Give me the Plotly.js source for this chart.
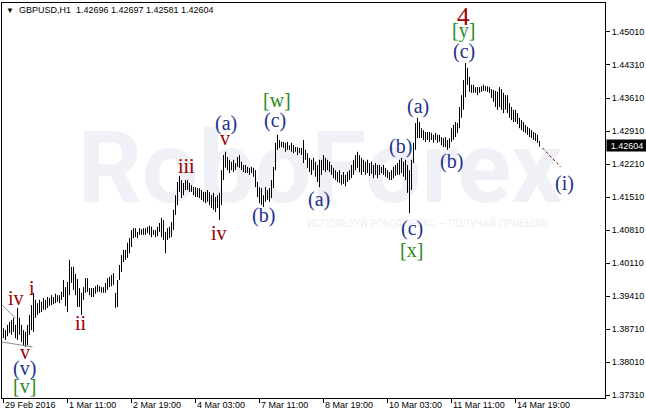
<!DOCTYPE html>
<html>
<head>
<meta charset="utf-8">
<script src="https://cdn.plot.ly/plotly-3.0.1.min.js"></script>
<style>html,body{margin:0;padding:0;background:#fff}#chart{width:646px;height:414px}</style>
</head>
<body>
<div id="chart"></div>
<script>
// GBPUSD H1, 29 Feb 2016 03:00 onward (one entry per hourly bar)
const highs = [
1.3873,1.3869,1.3880,1.3886,1.3890,1.3895,1.3880,1.3916,1.3895,1.3880,
1.3869,1.3865,1.3880,1.3901,1.3922,1.3948,1.3933,1.3926,1.3933,1.3929,
1.3937,1.3933,1.3939,1.3937,1.3943,1.3939,1.3946,1.3943,1.3943,1.3950,
1.3975,1.3960,1.3971,1.4018,1.4003,1.4003,1.3988,1.3977,1.3958,1.3948,
1.3960,1.3979,1.3979,1.3958,1.3958,1.3958,1.3962,1.3965,1.3962,1.3960,
1.3960,1.3969,1.3979,1.3982,1.3986,1.3990,1.3948,1.3975,1.4007,1.4028,
1.4039,1.4039,1.4054,1.4064,1.4081,1.4085,1.4085,1.4077,1.4085,1.4083,
1.4085,1.4085,1.4088,1.4090,1.4088,1.4081,1.4081,1.4088,1.4096,1.4107,
1.4102,1.4077,1.4085,1.4088,1.4098,1.4124,1.4155,1.4183,1.4196,1.4187,
1.4181,1.4187,1.4187,1.4181,1.4176,1.4172,1.4172,1.4170,1.4170,1.4166,
1.4162,1.4162,1.4166,1.4162,1.4155,1.4160,1.4151,1.4155,1.4160,1.4208,
1.4240,1.4247,1.4236,1.4230,1.4226,1.4230,1.4223,1.4236,1.4240,1.4226,
1.4219,1.4219,1.4215,1.4213,1.4215,1.4213,1.4208,1.4183,1.4172,1.4170,
1.4155,1.4172,1.4166,1.4170,1.4187,1.4215,1.4266,1.4283,1.4272,1.4268,
1.4268,1.4266,1.4268,1.4261,1.4266,1.4261,1.4257,1.4257,1.4255,1.4255,
1.4272,1.4251,1.4244,1.4234,1.4230,1.4234,1.4226,1.4219,1.4230,1.4230,
1.4240,1.4234,1.4230,1.4226,1.4219,1.4213,1.4208,1.4204,1.4208,1.4198,
1.4204,1.4198,1.4204,1.4208,1.4219,1.4230,1.4240,1.4247,1.4240,1.4234,
1.4230,1.4226,1.4230,1.4223,1.4226,1.4219,1.4223,1.4219,1.4219,1.4215,
1.4219,1.4213,1.4208,1.4204,1.4208,1.4215,1.4219,1.4223,1.4230,1.4234,
1.4226,1.4230,1.4219,1.4208,1.4230,1.4266,1.4308,1.4319,1.4310,1.4297,
1.4293,1.4289,1.4289,1.4289,1.4287,1.4283,1.4287,1.4283,1.4283,1.4278,
1.4276,1.4278,1.4272,1.4276,1.4297,1.4304,1.4310,1.4308,1.4342,1.4367,
1.4399,1.4435,1.4425,1.4406,1.4389,1.4389,1.4384,1.4384,1.4384,1.4386,
1.4389,1.4386,1.4386,1.4384,1.4380,1.4378,1.4376,1.4374,1.4384,1.4380,
1.4372,1.4367,1.4367,1.4350,1.4342,1.4336,1.4336,1.4329,1.4319,1.4314,
1.4310,1.4304,1.4300,1.4297,1.4293,1.4289,1.4287,1.4283,1.42697
];
const lows = [
1.3852,1.3848,1.3856,1.3863,1.3859,1.3865,1.3852,1.3848,1.3859,1.3844,
1.3837,1.3833,1.3837,1.3859,1.3869,1.3865,1.3895,1.3901,1.3905,1.3907,
1.3912,1.3912,1.3916,1.3920,1.3922,1.3924,1.3926,1.3929,1.3926,1.3933,
1.3939,1.3920,1.3907,1.3943,1.3969,1.3954,1.3943,1.3918,1.3918,1.3901,
1.3933,1.3948,1.3950,1.3943,1.3939,1.3939,1.3946,1.3950,1.3950,1.3948,
1.3948,1.3948,1.3954,1.3960,1.3962,1.3965,1.3916,1.3918,1.3975,1.3992,
1.4013,1.4018,1.4022,1.4032,1.4045,1.4064,1.4066,1.4064,1.4071,1.4071,
1.4071,1.4071,1.4075,1.4071,1.4066,1.4071,1.4066,1.4068,1.4077,1.4066,
1.4060,1.4032,1.4060,1.4064,1.4066,1.4081,1.4113,1.4134,1.4162,1.4149,
1.4155,1.4166,1.4166,1.4162,1.4162,1.4155,1.4151,1.4151,1.4149,1.4145,
1.4141,1.4138,1.4141,1.4134,1.4128,1.4124,1.4119,1.4128,1.4102,1.4134,
1.4187,1.4213,1.4208,1.4202,1.4208,1.4204,1.4208,1.4215,1.4213,1.4208,
1.4204,1.4202,1.4202,1.4198,1.4202,1.4194,1.4172,1.4151,1.4138,1.4134,
1.4130,1.4141,1.4145,1.4141,1.4149,1.4170,1.4208,1.4251,1.4255,1.4257,
1.4255,1.4247,1.4251,1.4251,1.4247,1.4244,1.4247,1.4240,1.4244,1.4240,
1.4223,1.4230,1.4213,1.4204,1.4198,1.4208,1.4194,1.4183,1.4172,1.4198,
1.4208,1.4204,1.4208,1.4204,1.4198,1.4191,1.4187,1.4183,1.4181,1.4177,
1.4179,1.4174,1.4183,1.4187,1.4191,1.4198,1.4208,1.4213,1.4204,1.4198,
1.4204,1.4198,1.4202,1.4196,1.4200,1.4191,1.4198,1.4191,1.4198,1.4202,
1.4198,1.4194,1.4191,1.4187,1.4187,1.4191,1.4196,1.4198,1.4198,1.4202,
1.4194,1.4187,1.4160,1.4117,1.4166,1.4223,1.4251,1.4276,1.4276,1.4276,
1.4272,1.4268,1.4272,1.4268,1.4272,1.4266,1.4272,1.4266,1.4268,1.4261,
1.4257,1.4257,1.4251,1.4255,1.4268,1.4272,1.4278,1.4287,1.4297,1.4319,
1.4336,1.4363,1.4389,1.4374,1.4372,1.4372,1.4372,1.4367,1.4372,1.4374,
1.4376,1.4376,1.4374,1.4372,1.4361,1.4353,1.4342,1.4336,1.4342,1.4336,
1.4329,1.4336,1.4329,1.4319,1.4314,1.4310,1.4310,1.4306,1.4297,1.4293,
1.4289,1.4287,1.4283,1.4278,1.4276,1.4272,1.4270,1.4266,1.42581
];
const lastBar = {open: 1.42696, high: 1.42697, low: 1.42581, close: 1.42604};

const xTickIdx  = [0, 32, 64, 96, 128, 160, 192, 224, 256];
const xTickText = ['29 Feb 2016','1 Mar 11:00','2 Mar 19:00','4 Mar 03:00','7 Mar 11:00',
                   '8 Mar 19:00','10 Mar 03:00','11 Mar 11:00','14 Mar 19:00'];
const yTicks = [1.37310,1.38010,1.38710,1.39410,1.40110,1.40810,1.41510,1.42210,1.42910,1.43610,1.44310,1.45010];

// Elliott wave labels: text, bar index, price, degree
const waveText   = ['iv','i','v','(v)','[v]','ii','iii','iv','v','(a)','(b)','(c)','[w]',
                    '(a)','(b)','(c)','[x]','(a)','(b)','(c)','[y]','4','(i)'];
const waveX      = [6,14,10.5,10.5,10.5,38.5,91.5,107.5,110.5,111,130,135.5,136.5,
                    157.5,198.5,204,204,207,224,230,230,230,280.5];
const waveY      = [1.3937,1.3958,1.38226,1.37865,1.37505,1.38840,1.42169,1.40748,1.42762,1.43059,1.41109,1.43123,1.43568,
                    1.41448,1.42572,1.40854,1.40388,1.43420,1.42254,1.44586,1.45031,1.45328,1.41808];
const waveDegree = ['sub','sub','sub','minuette','minute','sub','sub','sub','sub','minuette','minuette','minuette','minute',
                    'minuette','minuette','minuette','minute','minuette','minuette','minuette','minute','minor','minuette'];

// projection and trend lines (bar index, price)
const projLine = {x0: 269.5, y0: 1.4255, x1: 278.5, y1: 1.4215};
const trendLines = [
  {x0: -0.75, y0: 1.39222, x1: 6, y1: 1.38946},
  {x0: -0.75, y0: 1.38438, x1: 14.5, y1: 1.38332}
];

const degreeStyle = {
  sub:      {color: '#990000', size: 20},
  minuette: {color: '#22308C', size: 20},
  minute:   {color: '#2A8A1E', size: 20},
  minor:    {color: '#990000', size: 25}
};

// bars as high-low segments
const sx = [], sy = [];
highs.forEach((h, i) => { sx.push(i, i, null); sy.push(lows[i], h, null); });

const sans = 'Liberation Sans, Arial, sans-serif';
const serif = 'Liberation Serif, Times New Roman, serif';

const traces = [
  {type: 'scatter', mode: 'text', x: [158.25], y: [1.4193], text: ['RoboForex'],
   textfont: {family: 'Roboto, sans-serif', size: 100, color: '#EFF1F6', weight: 700},
   hoverinfo: 'skip', cliponaxis: false},
  {type: 'scatter', mode: 'text', x: [212], y: [1.4092], text: ['ИСПОЛЬЗУЙ РОБОФОРЕКС — ПОЛУЧАЙ ПРИБЫЛЬ'],
   textfont: {family: 'Roboto, sans-serif', size: 10, color: '#ECEFF4'},
   hoverinfo: 'skip', cliponaxis: false},
  {type: 'scatter', mode: 'lines', x: sx, y: sy, connectgaps: false,
   line: {color: '#000000', width: 1}, hoverinfo: 'skip'}
];

const annotations = [];
waveText.forEach((t, i) => {
  const st = degreeStyle[waveDegree[i]];
  annotations.push({x: waveX[i], y: waveY[i], xref: 'x', yref: 'y', text: t, showarrow: false,
    xanchor: 'center', yanchor: 'middle', font: {family: serif, size: st.size, color: st.color}});
});
xTickIdx.forEach((v, i) => {
  annotations.push({x: v, y: 0, xref: 'x', yref: 'paper', text: xTickText[i], showarrow: false,
    xanchor: 'left', yanchor: 'top', xshift: -1, font: {family: sans, size: 9, color: '#000'}});
});
annotations.push({x: 0, y: 1, xref: 'paper', yref: 'paper', xanchor: 'left', yanchor: 'top', showarrow: false,
  xshift: 2, yshift: 0,
  text: '<span style="font-size:8px">▼</span>\u00A0 GBPUSD,H1\u00A0\u00A0' +
        [lastBar.open, lastBar.high, lastBar.low, lastBar.close].map(v => v.toFixed(5)).join(' '),
  font: {family: sans, size: 9, color: '#000'}});
annotations.push({x: 1, y: lastBar.close, xref: 'paper', yref: 'y', xanchor: 'left', yanchor: 'middle',
  showarrow: false, text: lastBar.close.toFixed(5), bgcolor: '#000000', width: 40, height: 11,
  borderpad: 0, xshift: 1, font: {family: sans, size: 9, color: '#ffffff'}});

const shapes = [
  {type: 'line', xref: 'x', yref: 'y', x0: projLine.x0, y0: projLine.y0, x1: projLine.x1, y1: projLine.y1,
   line: {color: '#7A1010', width: 1, dash: '3px,2px'}}
].concat(trendLines.map(l => ({type: 'line', xref: 'x', yref: 'y', x0: l.x0, y0: l.y0, x1: l.x1, y1: l.y1,
   line: {color: '#8C8C8C', width: 1}})));

const layout = {
  width: 646, height: 414,
  margin: {l: 2, r: 41, t: 3, b: 16, pad: 0},
  paper_bgcolor: '#ffffff', plot_bgcolor: 'rgba(0,0,0,0)',
  showlegend: false,
  xaxis: {range: [-0.75, 300.75], tickmode: 'array', tickvals: xTickIdx, showticklabels: false,
    ticks: 'outside', ticklen: 4, tickcolor: '#000', showline: true, mirror: true, linecolor: '#000',
    linewidth: 1, showgrid: false, zeroline: false, fixedrange: true},
  yaxis: {side: 'right', range: [1.37250, 1.45624], tickmode: 'array', tickvals: yTicks,
    ticktext: yTicks.map(v => v.toFixed(5)), ticks: 'outside', ticklen: 4, tickcolor: '#000',
    tickfont: {family: sans, size: 9, color: '#000'}, showline: true, mirror: true, linecolor: '#000',
    linewidth: 1, showgrid: false, zeroline: false, fixedrange: true},
  annotations: annotations,
  shapes: shapes
};

Plotly.newPlot('chart', traces, layout, {displayModeBar: false, staticPlot: true});
</script>
</body>
</html>
